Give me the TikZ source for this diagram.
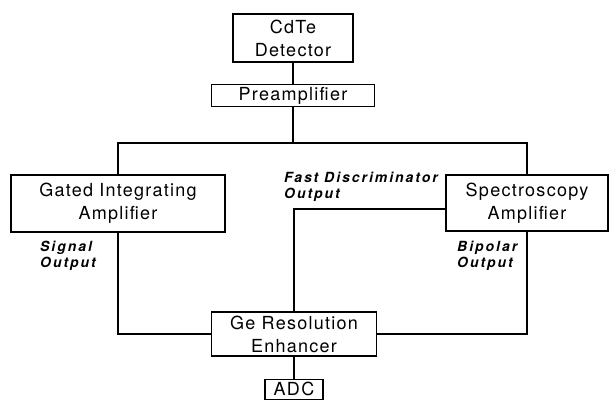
\documentclass[tikz,border=0pt]{standalone}
\usepackage{fontspec}
\setmainfont{TeX Gyre Heros}[LetterSpace=7]
\newfontfamily\outfont{TeX Gyre Heros}[LetterSpace=14]
\usetikzlibrary{positioning}

\begin{document}
\begin{tikzpicture}[x=1pt,y=-1pt,
	block/.style={draw,line width=1.4pt,inner sep=0pt,align=center,
		font=\fontsize{18}{23}\selectfont},
	wire/.style={line width=1.4pt},
	outlabel/.style={font=\outfont\fontsize{14}{16}\selectfont\bfseries\itshape,
		align=left,inner sep=0pt,anchor=north west}]
	
	\useasboundingbox (0,0) rectangle (610,404);
	
	%%%%%%%%%%%%%%%%%%%%%%%%%%%%%%%%%%%%%%%%%%%%%%%%%%%%%%
	
	\node [block,minimum width=120pt,minimum height=48pt] (detector) at (293,38) {CdTe\\Detector};
	\node [block,minimum width=163pt,minimum height=22pt,below=21pt of detector] (preamp) {Preamplifier};
	\coordinate [below=36pt of preamp] (bus);
	
	%%%%%%%%%%%%%%%%%%%%%%%%%%%%%%%%%%%%%%%%%%%%%%%%%%%%%%
	
	\node [block,minimum width=214pt,minimum height=57pt] (gated) at (118,203.5) {Gated Integrating\\Amplifier};
	\node [block,minimum width=162pt,minimum height=56pt] (spectro) at (527,203) {Spectroscopy\\Amplifier};
	
	%%%%%%%%%%%%%%%%%%%%%%%%%%%%%%%%%%%%%%%%%%%%%%%%%%%%%%
	
	\node [block,minimum width=165pt,minimum height=44pt] (enhancer) at (294,334) {Ge Resolution\\Enhancer};
	\node [block,minimum width=58pt,minimum height=20pt,below=22pt of enhancer] (adc) {ADC};
	
	%%%%%%%%%%%%%%%%%%%%%%%%%%%%%%%%%%%%%%%%%%%%%%%%%%%%%%
	
	\draw [wire] (detector) -- (preamp);
	\draw [wire] (preamp) -- (bus);
	\draw [wire] (gated.north) |- (bus) -| (spectro.north);
	\draw [wire] ([yshift=-6pt]spectro.west) -| (enhancer.north);
	\draw [wire] (gated.south) |- (enhancer.west);
	\draw [wire] (spectro.south) |- (enhancer.east);
	\draw [wire] (enhancer) -- (adc);
	
	%%%%%%%%%%%%%%%%%%%%%%%%%%%%%%%%%%%%%%%%%%%%%%%%%%%%%%
	
	\node [outlabel] (fast-text) at (284,172) {Fast Discriminator\\Output};
	\node [outlabel] (signal-text) at (40,241) {Signal\\Output};
	\node [outlabel] (bipolar-text) at (457,241) {Bipolar\\Output};
	
\end{tikzpicture}
\end{document}
